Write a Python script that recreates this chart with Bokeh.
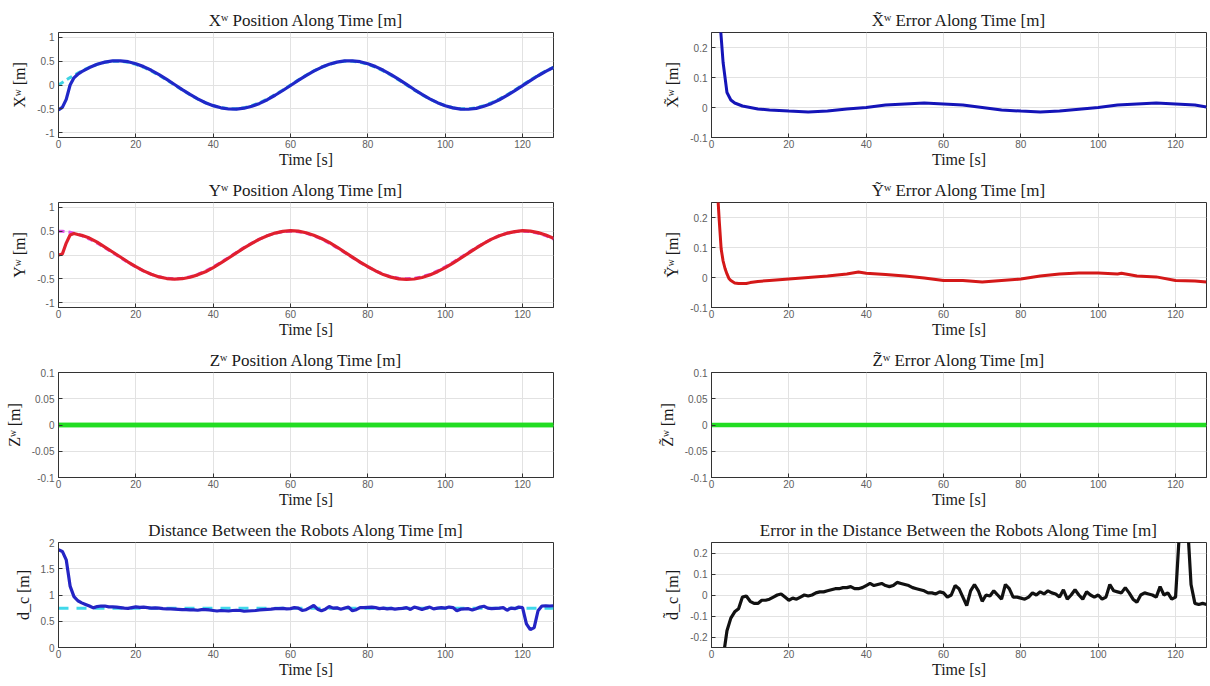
from bokeh.plotting import figure
from bokeh.layouts import column, row
from bokeh.models import Range1d, FixedTicker, CustomJSTickFormatter
from bokeh.embed import file_html
from bokeh.resources import INLINE

# ---------------- data ----------------
t_pos = [0, 1, 2, 3, 4, 5, 6] + list(range(8, 129, 2))

x_ref = [0.0, 0.052, 0.104, 0.155, 0.203, 0.25, 0.294,
         0.372, 0.433, 0.476, 0.497, 0.497, 0.476, 0.433, 0.372, 0.294, 0.203, 0.104, 0.0,
         -0.104, -0.203, -0.294, -0.372, -0.433, -0.476, -0.497, -0.497, -0.476, -0.433,
         -0.372, -0.294, -0.203, -0.104, 0.0, 0.104, 0.203, 0.294, 0.372, 0.433,
         0.476, 0.497, 0.497, 0.476, 0.433, 0.372, 0.294, 0.203, 0.104, 0.0,
         -0.104, -0.203, -0.294, -0.372, -0.433, -0.476, -0.497, -0.497, -0.476, -0.433,
         -0.372, -0.294, -0.203, -0.104, 0.0, 0.104, 0.203, 0.294, 0.372]
x_act = [-0.52, -0.47, -0.3, 0.0, 0.15, 0.225, 0.28,
         0.365, 0.433, 0.48, 0.505, 0.507, 0.488, 0.445, 0.385, 0.308, 0.216, 0.116, 0.011,
         -0.096, -0.198, -0.292, -0.372, -0.433, -0.478, -0.503, -0.505, -0.486, -0.445,
         -0.386, -0.308, -0.215, -0.115, -0.01, 0.095, 0.197, 0.29, 0.37, 0.433,
         0.479, 0.505, 0.507, 0.488, 0.445, 0.385, 0.308, 0.217, 0.117, 0.012,
         -0.095, -0.197, -0.29, -0.37, -0.433, -0.48, -0.505, -0.508, -0.49, -0.446,
         -0.386, -0.309, -0.218, -0.116, -0.012, 0.093, 0.194, 0.287, 0.37]

y_ref = [0.5, 0.497, 0.489, 0.476, 0.457, 0.433, 0.405,
         0.335, 0.25, 0.155, 0.052, -0.052, -0.155, -0.25, -0.335, -0.405, -0.457, -0.489, -0.5,
         -0.489, -0.457, -0.405, -0.335, -0.25, -0.155, -0.052, 0.052, 0.155, 0.25,
         0.335, 0.405, 0.457, 0.489, 0.5, 0.489, 0.457, 0.405, 0.335, 0.25,
         0.155, 0.052, -0.052, -0.155, -0.25, -0.335, -0.405, -0.457, -0.489, -0.5,
         -0.489, -0.457, -0.405, -0.335, -0.25, -0.155, -0.052, 0.052, 0.155, 0.25,
         0.335, 0.405, 0.457, 0.489, 0.5, 0.489, 0.457, 0.405, 0.335]
y_act = [0.0, 0.02, 0.25, 0.42, 0.45, 0.43, 0.412,
         0.355, 0.268, 0.167, 0.063, -0.042, -0.147, -0.245, -0.333, -0.405, -0.459, -0.493, -0.505,
         -0.497, -0.467, -0.416, -0.353, -0.264, -0.167, -0.063, 0.043, 0.149, 0.245,
         0.332, 0.405, 0.459, 0.495, 0.51, 0.499, 0.467, 0.415, 0.346, 0.265,
         0.167, 0.06, -0.044, -0.15, -0.245, -0.332, -0.41, -0.464, -0.499, -0.512,
         -0.503, -0.472, -0.42, -0.35, -0.265, -0.169, -0.066, 0.038, 0.145, 0.245,
         0.333, 0.403, 0.457, 0.49, 0.51, 0.5, 0.469, 0.418, 0.35]

t_z = [0, 128]
z_ref = [0.0, 0.0]
z_act = [0.0, 0.0]

t_d = list(range(0, 129))
d_ref_t = [0, 128]
d_ref = [0.75, 0.75]
d_act = [1.86, 1.83, 1.67, 1.17, 0.97, 0.89, 0.85, 0.82, 0.79, 0.755,
         0.78, 0.79, 0.79, 0.775, 0.775, 0.77, 0.76, 0.75, 0.745, 0.76,
         0.775, 0.765, 0.77, 0.76, 0.75, 0.755, 0.75, 0.74, 0.735, 0.735,
         0.73, 0.725, 0.72, 0.72, 0.715, 0.715, 0.71, 0.72, 0.72, 0.715,
         0.705, 0.695, 0.705, 0.70, 0.695, 0.705, 0.71, 0.705, 0.69, 0.695,
         0.70, 0.705, 0.715, 0.72, 0.725, 0.73, 0.74, 0.74, 0.745, 0.735,
         0.74, 0.76, 0.75, 0.705, 0.72, 0.76, 0.80, 0.73, 0.70, 0.73,
         0.78, 0.75, 0.755, 0.73, 0.75, 0.77, 0.70, 0.72, 0.76, 0.76,
         0.765, 0.77, 0.76, 0.74, 0.75, 0.735, 0.745, 0.73, 0.74, 0.745,
         0.76, 0.725, 0.77, 0.75, 0.725, 0.75, 0.77, 0.735, 0.75, 0.76,
         0.75, 0.77, 0.76, 0.70, 0.73, 0.735, 0.74, 0.715, 0.74, 0.77,
         0.785, 0.75, 0.74, 0.745, 0.75, 0.76, 0.71, 0.75, 0.74, 0.77,
         0.76, 0.45, 0.34, 0.38, 0.70, 0.79, 0.795, 0.79, 0.795]

t_ex = [0, 1, 2, 3, 4, 5, 6, 7, 8, 10, 12, 15, 20, 25, 30, 35, 40, 45, 50, 55,
        60, 65, 70, 75, 80, 85, 90, 95, 100, 105, 110, 115, 120, 125, 128]
ex = [0.52, 0.5, 0.32, 0.15, 0.05, 0.025, 0.015, 0.01, 0.005, 0.0,
      -0.005, -0.008, -0.012, -0.015, -0.012, -0.005, 0.0, 0.008, 0.012, 0.015,
      0.012, 0.008, 0.0, -0.008, -0.012, -0.015, -0.012, -0.006, 0.0, 0.008,
      0.012, 0.015, 0.012, 0.008, 0.002]

t_ey = [0, 1, 1.5, 2, 2.5, 3, 3.5, 4, 4.5, 5, 6, 7, 8, 9, 10, 12, 15, 20, 25, 30,
        35, 38, 40, 45, 50, 55, 60, 65, 70, 75, 80, 85, 90, 95, 100, 105, 106, 110,
        115, 120, 125, 128]
ey = [0.5, 0.48, 0.3, 0.19, 0.095, 0.055, 0.03, 0.012, -0.003, -0.01,
      -0.018, -0.02, -0.02, -0.02, -0.017, -0.013, -0.01, -0.005, 0.0, 0.005,
      0.012, 0.018, 0.014, 0.01, 0.005, -0.002, -0.01, -0.01, -0.015, -0.01,
      -0.005, 0.005, 0.012, 0.015, 0.015, 0.012, 0.014, 0.005, 0.002, -0.01,
      -0.012, -0.015]

ez = [0.0, 0.0]

ed = [-1.1, -1.05, -0.6, -0.3, -0.17, -0.11, -0.08, -0.065, -0.01, -0.005,
      -0.03, -0.04, -0.04, -0.025, -0.025, -0.02, -0.01, 0.0, 0.005, -0.01,
      -0.025, -0.015, -0.02, -0.01, 0.0, -0.005, 0.0, 0.01, 0.015, 0.015,
      0.02, 0.025, 0.03, 0.03, 0.035, 0.035, 0.04, 0.03, 0.03, 0.035,
      0.045, 0.055, 0.045, 0.05, 0.055, 0.045, 0.04, 0.045, 0.06, 0.055,
      0.05, 0.045, 0.035, 0.03, 0.025, 0.02, 0.01, 0.01, 0.005, 0.015,
      0.01, -0.01, 0.0, 0.045, 0.03, -0.01, -0.05, 0.02, 0.05, 0.02,
      -0.03, 0.0, -0.005, 0.02, 0.0, -0.02, 0.05, 0.03, -0.01, -0.01,
      -0.015, -0.02, -0.01, 0.01, 0.0, 0.015, 0.005, 0.02, 0.01, 0.005,
      -0.01, 0.025, -0.02, 0.0, 0.025, 0.0, -0.02, 0.015, 0.0, -0.01,
      0.0, -0.02, -0.01, 0.05, 0.02, 0.015, 0.01, 0.035, 0.01, -0.02,
      -0.035, 0.0, 0.01, 0.005, 0.0, -0.01, 0.04, 0.0, 0.01, -0.02,
      -0.01, 0.3, 0.41, 0.37, 0.05, -0.04, -0.045, -0.04, -0.045]

x_ticks = [0, 20, 40, 60, 80, 100, 120]
x_tick_labels = ["0", "20", "40", "60", "80", "100", "120"]
pos_ticks = [-1, -0.5, 0, 0.5, 1]
pos_tick_labels = ["-1", "-0.5", "0", "0.5", "1"]
z_ticks = [-0.1, -0.05, 0, 0.05, 0.1]
z_tick_labels = ["-0.1", "-0.05", "0", "0.05", "0.1"]
d_ticks = [0, 0.5, 1, 1.5, 2]
d_tick_labels = ["0", "0.5", "1", "1.5", "2"]
exy_ticks = [-0.1, 0, 0.1, 0.2]
exy_tick_labels = ["-0.1", "0", "0.1", "0.2"]
ed_ticks = [-0.2, -0.1, 0, 0.1, 0.2]
ed_tick_labels = ["-0.2", "-0.1", "0", "0.1", "0.2"]

SERIF = "Liberation Serif"
SANS = "Liberation Sans"


def fmt(vals, labs):
    return CustomJSTickFormatter(args=dict(vals=vals, labs=labs), code="""
        for (let i = 0; i < vals.length; i++) {
            if (Math.abs(vals[i] - tick) < 1e-9) { return labs[i]; }
        }
        return '';
    """)


def make_fig(title, ylabel, yr, yt, ytl, left_col):
    if left_col:
        bl, br = 58, 52
    else:
        bl, br = 106, 4
    p = figure(width=605, height=170, output_backend="svg", toolbar_location=None,
               x_range=Range1d(0, 128), y_range=Range1d(*yr),
               min_border_left=bl, min_border_right=br, min_border_top=32, min_border_bottom=32,
               title=title)
    p.title.text_font = SERIF
    p.title.text_font_size = "17px"
    p.title.text_font_style = "normal"
    p.title.align = "center"
    p.title.text_color = "#1a1a1a"
    p.title.standoff = 5
    p.outline_line_color = "#333333"
    p.outline_line_width = 1
    p.background_fill_color = "white"
    p.border_fill_color = "white"
    p.xaxis.ticker = FixedTicker(ticks=x_ticks)
    p.xaxis.formatter = fmt(x_ticks, x_tick_labels)
    p.yaxis.ticker = FixedTicker(ticks=yt)
    p.yaxis.formatter = fmt(yt, ytl)
    p.xaxis.axis_label = "Time [s]"
    p.yaxis.axis_label = ylabel
    for ax in (p.xaxis[0], p.yaxis[0]):
        ax.axis_label_text_font = SERIF
        ax.axis_label_text_font_size = "16px"
        ax.axis_label_text_font_style = "normal"
        ax.axis_label_text_color = "#1a1a1a"
        ax.major_label_text_font = SANS
        ax.major_label_text_font_size = "10px"
        ax.major_label_text_color = "#606060"
        ax.major_tick_in = 4
        ax.major_tick_out = 0
        ax.minor_tick_line_color = None
        ax.axis_line_color = "#333333"
        ax.major_tick_line_color = "#333333"
    p.xaxis.major_label_standoff = 2
    p.xaxis.axis_label_standoff = 0
    p.yaxis.major_label_standoff = 4
    p.yaxis.axis_label_standoff = 6
    p.xgrid.ticker = FixedTicker(ticks=x_ticks)
    p.ygrid.ticker = FixedTicker(ticks=yt)
    p.grid.grid_line_color = "#e2e2e2"
    p.grid.grid_line_width = 1
    return p


# Row 1
p1 = make_fig("Xʷ Position Along Time [m]", "Xʷ [m]", (-1.1, 1.1), pos_ticks, pos_tick_labels, True)
p1.line(t_pos, x_ref, line_color="#3fd3e3", line_width=3, line_dash="6 4")
p1.line(t_pos, x_act, line_color="#2028c8", line_width=3.2)

p2 = make_fig("X̃ʷ Error Along Time [m]", "X̃ʷ [m]", (-0.1, 0.25), exy_ticks, exy_tick_labels, False)
p2.line(t_ex, ex, line_color="#1414b8", line_width=3)

# Row 2
p3 = make_fig("Yʷ Position Along Time [m]", "Yʷ [m]", (-1.1, 1.1), pos_ticks, pos_tick_labels, True)
p3.line(t_pos, y_ref, line_color="#e050e8", line_width=3, line_dash="6 4")
p3.line(t_pos, y_act, line_color="#e0202e", line_width=3.2)

p4 = make_fig("Ỹʷ Error Along Time [m]", "Ỹʷ [m]", (-0.1, 0.25), exy_ticks, exy_tick_labels, False)
p4.line(t_ey, ey, line_color="#d41818", line_width=3)

# Row 3
p5 = make_fig("Zʷ Position Along Time [m]", "Zʷ [m]", (-0.1, 0.1), z_ticks, z_tick_labels, True)
p5.line(t_z, z_ref, line_color="#30e030", line_width=4.5)
p5.line(t_z, z_act, line_color="#22dd22", line_width=4.5)

p6 = make_fig("Z̃ʷ Error Along Time [m]", "Z̃ʷ [m]", (-0.1, 0.1), z_ticks, z_tick_labels, False)
p6.line(t_z, ez, line_color="#22dd22", line_width=4.5)

# Row 4
p7 = make_fig("Distance Between the Robots Along Time [m]", "d_c [m]", (0, 2), d_ticks, d_tick_labels, True)
p7.line(d_ref_t, d_ref, line_color="#40d8ea", line_width=3, line_dash="10 8")
p7.line(t_d, d_act, line_color="#2424c4", line_width=3.2)

p8 = make_fig("Error in the Distance Between the Robots Along Time [m]", "d̃_c [m]", (-0.25, 0.25), ed_ticks, ed_tick_labels, False)
p8.line(t_d, ed, line_color="#111111", line_width=3.2)

layout = column(row(p1, p2), row(p3, p4), row(p5, p6), row(p7, p8))

with open("out.html", "w") as f:
    f.write(file_html(layout, INLINE))
